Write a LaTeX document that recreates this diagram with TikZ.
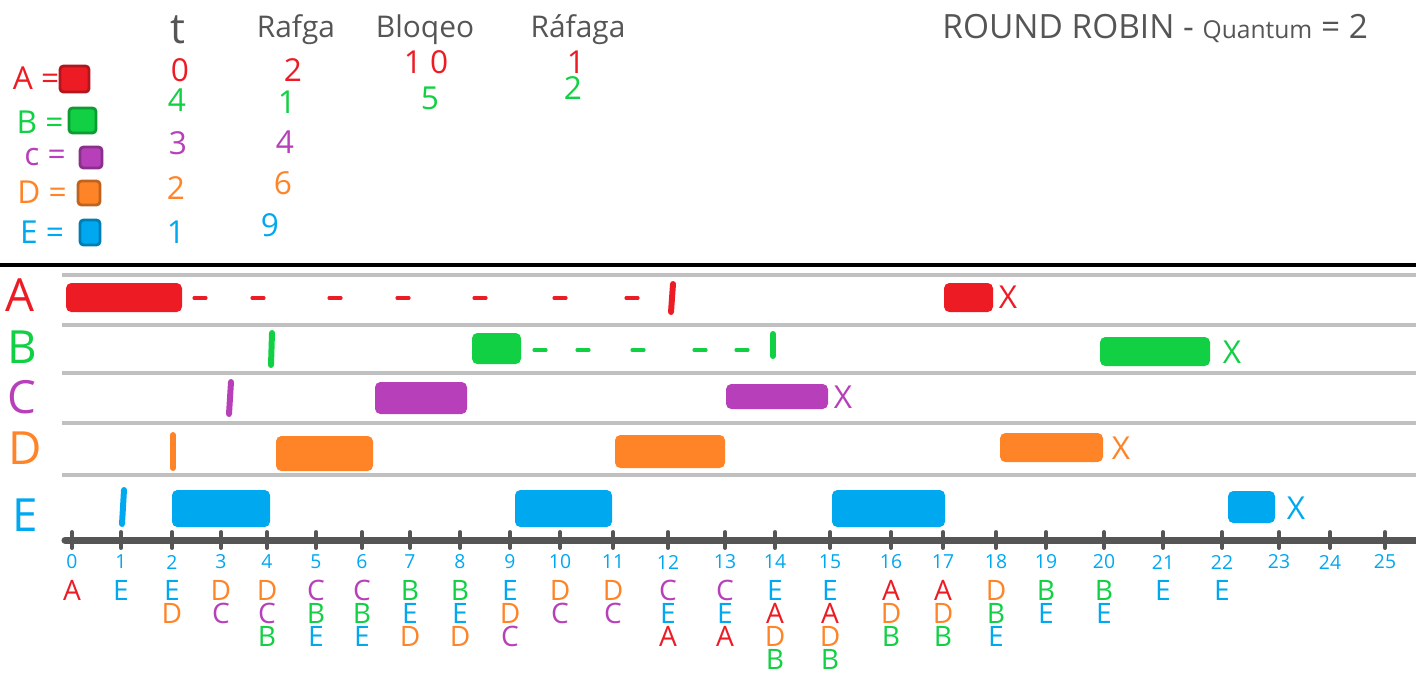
\documentclass[tikz,border=0pt]{standalone}
\usepackage{fontspec}
\setmainfont{Open Sans}
\usepackage{xcolor}
\usepackage{tikz}
\usetikzlibrary{calc}

\definecolor{procA}{RGB}{237,28,36}
\definecolor{procB}{RGB}{17,208,67}
\definecolor{procC}{RGB}{183,64,186}
\definecolor{procD}{RGB}{255,132,40}
\definecolor{procE}{RGB}{0,168,240}
\definecolor{ink}{RGB}{85,85,85}
\definecolor{rulegray}{RGB}{192,192,192}

\begin{document}
\begin{tikzpicture}[
    x=0.01cm, y=-0.01cm,
    runbar/.style={rounded corners=1.5pt},
    readyline/.style={line width=1.7pt, line cap=round},
    waitdash/.style={line width=0.9pt, line cap=round},
    lanerule/.style={draw=rulegray, line width=0.9pt},
    lanelbl/.style={font=\fontsize{13}{13}\selectfont},
    hdr/.style={text=ink, font=\fontsize{8.5}{8.5}\selectfont},
    num/.style={font=\fontsize{9}{9}\selectfont},
    legbox/.style={rounded corners=1pt, line width=0.8pt},
    qlbl/.style={font=\fontsize{8}{8}\selectfont, inner sep=0pt},
    ticklbl/.style={text=procE, font=\fontsize{5.5}{6}\selectfont, inner sep=0pt},
    endx/.style={font=\fontsize{9}{9}\selectfont}
]
\useasboundingbox (0,0) rectangle (1416,672);

% Title
\node[text=ink, font=\fontsize{9.5}{9.5}\selectfont, anchor=west] (title) at (930,28) {ROUND ROBIN - {\fontsize{7}{7}\selectfont Quantum} = 2};

% Table header
\node[hdr, font=\fontsize{12}{12}\selectfont] (hT) at (178,30) {t};
\node[hdr] (hRaf) at (296,30) {Rafga};
\node[hdr] (hBlq) at (425,30) {Bloqeo};
\node[hdr] (hRaf2) at (578,30) {Ráfaga};

% Legend
\node[num, text=procA] (legA) at (36,78) {A =};
\fill[procA, draw=procA!75!black, legbox] (60,66) rectangle (89,92);
\node[num, text=procB] (legB) at (40,122) {B =};
\fill[procB, draw=procB!75!black, legbox] (69,108) rectangle (96,133);
\node[num, text=procC] (legC) at (45,157) {c =};
\fill[procC, draw=procC!75!black, legbox] (80,147) rectangle (102,168);
\node[num, text=procD] (legD) at (42,192) {D =};
\fill[procD, draw=procD!75!black, legbox] (78,181) rectangle (100,205);
\node[num, text=procE] (legE) at (42,232) {E =};
\fill[procE, draw=procE!75!black, legbox] (80,220) rectangle (100,245);

% Arrival / burst / block / burst
\node[num, text=procA] (tA) at (180,70) {0};
\node[num, text=procA] (rA) at (293,70) {2};
\node[num, text=procA] (bA) at (426,62) {1 0};
\node[num, text=procA] (r2A) at (576,62) {1};
\node[num, text=procB] (tB) at (177,100) {4};
\node[num, text=procB] (rB) at (287,102) {1};
\node[num, text=procB] (bB) at (430,98) {5};
\node[num, text=procB] (r2B) at (573,88) {2};
\node[num, text=procC] (tC) at (178,143) {3};
\node[num, text=procC] (rC) at (285,142) {4};
\node[num, text=procD] (tD) at (176,188) {2};
\node[num, text=procD] (rD) at (283,183) {6};
\node[num, text=procE] (tE) at (176,232) {1};
\node[num, text=procE] (rE) at (270,225) {9};

% Lanes
\draw[line width=0.9pt] (0,265) -- (1416,265);
\foreach \y in {275,325,373,423,475}
  \draw[lanerule] (62,\y) -- (1416,\y);

\node[lanelbl, text=procA] (laneA) at (20,295) {A};
\node[lanelbl, text=procB] (laneB) at (22,347) {B};
\node[lanelbl, text=procC] (laneC) at (22,397) {C};
\node[lanelbl, text=procD] (laneD) at (25,448) {D};
\node[lanelbl, text=procE] (laneE) at (25,515) {E};

% A
\fill[procA, runbar] (66,283) rectangle (182,312);
\foreach \x in {200,258,335,403,480,560,632}
  \draw[procA, waitdash] (\x-6,298) -- (\x+6,298);
\draw[procA, readyline] (673,284) -- (671,312);
\fill[procA, runbar] (944,283) rectangle (993,312);
\node[endx, text=procA] (xA) at (1008,297) {X};

% B
\draw[procB, readyline] (272,333) -- (271,365);
\fill[procB, runbar] (472,333) rectangle (521,364);
\foreach \x in {540,583,638,700,742}
  \draw[procB, waitdash] (\x-6,350) -- (\x+6,350);
\draw[procB, readyline] (773,334) -- (773,356);
\fill[procB, runbar] (1100,337) rectangle (1210,366);
\node[endx, text=procB] (xB) at (1232,352) {X};

% C
\draw[procC, readyline] (231,382) -- (229,414);
\fill[procC, runbar] (375,382) rectangle (467,414);
\fill[procC, runbar] (726,384) rectangle (828,409);
\node[endx, text=procC] (xC) at (843,397) {X};

% D
\draw[procD, readyline] (173,435) -- (173,468);
\fill[procD, runbar] (276,436) rectangle (373,471);
\fill[procD, runbar] (615,435) rectangle (725,468);
\fill[procD, runbar] (1000,433) rectangle (1103,462);
\node[endx, text=procD] (xD) at (1121,448) {X};

% E
\draw[procE, readyline] (124,490) -- (122,524);
\fill[procE, runbar] (172,490) rectangle (270,527);
\fill[procE, runbar] (515,490) rectangle (612,527);
\fill[procE, runbar] (832,490) rectangle (945,527);
\fill[procE, runbar] (1228,491) rectangle (1275,523);
\node[endx, text=procE] (xE) at (1296,508) {X};

% Time axis
\draw[ink, line width=2pt, line cap=round] (65,540) -- (1416,540);
\foreach \x [count=\i from 0] in {72,121,172,221,267,316,362,410,460,510,560,613,668,725,775,830,891,943,996,1046,1104,1163,1222,1279,1330,1385} {
  \coordinate (t\i) at (\x,540);
  \draw[ink, line width=1.1pt, line cap=round] (\x,532) -- (\x,548);
  \node[ticklbl] (n\i) at ($(t\i)+(0,22)$) {\i};
}

% Ready queue per instant
\foreach \i/\qs in {0/A, 1/E, 2/{E,D}, 3/{D,C}, 4/{D,C,B}, 5/{C,B,E}, 6/{C,B,E},
    7/{B,E,D}, 8/{B,E,D}, 9/{E,D,C}, 10/{D,C}, 11/{D,C}, 12/{C,E,A}, 13/{C,E,A},
    14/{E,A,D,B}, 15/{E,A,D,B}, 16/{A,D,B}, 17/{A,D,B}, 18/{D,B,E}, 19/{B,E},
    20/{B,E}, 21/E, 22/E}
  \foreach \p [count=\r] in \qs
    \node[qlbl, text=proc\p] (q\i-\r) at ($(t\i)+(0,27+23*\r)$) {\p};

\end{tikzpicture}
\end{document}
